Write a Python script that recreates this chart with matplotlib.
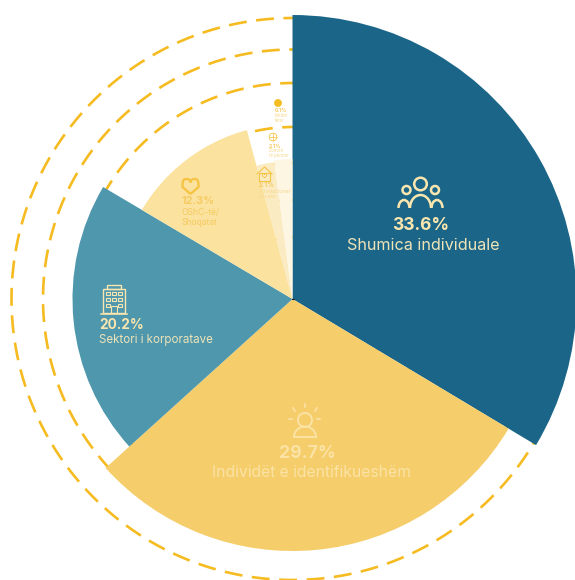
import numpy as np
import matplotlib
matplotlib.use('Agg')
import matplotlib.pyplot as plt
from matplotlib.patches import Circle, Rectangle, Arc, PathPatch
from matplotlib.path import Path

plt.rcParams['font.family'] = ['Inter', 'DejaVu Sans']

# share of funding (percent) and radius of each sector
labels = ['Shumica individuale', 'Individët e identifikueshëm', 'Sektori i korporatave',
          'OShC-të/\nShoqatat', 'Fondacioner\nprivate', 'Donorë\ntë përzier', 'Entitet\nfetar']
shares = [33.6, 29.7, 20.2, 12.3, 2.1, 2.1, 0.1]
radii = [284, 252, 220, 175, 138, 140, 0]
colors = ['#1B6688', '#F5CD6B', '#4E97AD', '#FBE29F', '#FBEBC2', '#FDF6E3', '#FFFFFF']
rings = [281, 249.5, 216, 172, 136, 99, 62]

W, H = 575, 580
cx, cy, rmax = 292.5, 299, 300

fig = plt.figure(figsize=(W / 100, H / 100), dpi=100)
ax = fig.add_axes([(cx - rmax) / W, (H - cy - rmax) / H, 2 * rmax / W, 2 * rmax / H], projection='polar')
ax.set_theta_zero_location('N')
ax.set_theta_direction(-1)
ax.set_rlim(0, rmax)
ax.axis('off')
ax.patch.set_alpha(0)

# dashed rings sit behind the sectors
tt = np.linspace(0, 2 * np.pi, 720)
for r in rings:
    ax.plot(tt, np.full_like(tt, r), color='#F5BB20', lw=1.9, dashes=(6.8, 3.6), zorder=1)

total = 100.0
start = 0.0
for s, r, c in zip(shares, radii, colors):
    w = s / total * 2 * np.pi
    ax.bar(start, r, width=w, bottom=0, align='edge', color=c, lw=0, zorder=2)
    start += w

# overlay in pixel coordinates for labels and icons
ov = fig.add_axes([0, 0, 1, 1])
ov.set_xlim(0, W)
ov.set_ylim(H, 0)
ov.axis('off')
ov.patch.set_alpha(0)

cream = '#FAE6AE'
gold = '#F5CB62'
pale = '#FBE3A5'


def label(x, y, pct, name, col, s1, s2, ha='left', gap=None, col2=None, dx=0):
    ov.text(x, y, pct, color=col, fontsize=s1, fontweight='bold', ha=ha, va='center')
    if gap is None:
        gap = 15
    ov.text(x + dx, y + gap, name, color=col2 or col, fontsize=s2, ha=ha, va='center', linespacing=1.05)


label(421, 226, '33.6%', labels[0], cream, 12.5, 11.6, ha='center', gap=20, col2='#EFE3B8', dx=2)
label(307, 453, '29.7%', labels[1], pale, 12.7, 11.3, ha='center', gap=19.5, dx=4.5)
label(99, 325, '20.2%', labels[2], cream, 9.8, 8.3, col2='#EFE3B8')
label(182, 201, '12.3%', '', gold, 7.8, 6)
ov.text(182, 217.5, labels[3], color=gold, fontsize=6.2, ha='left', va='center', linespacing=1.05)
label(259, 185, '2.1%', '', gold, 4.8, 4)
ov.text(259, 194, labels[4], color='#F7D98C', fontsize=3.9, ha='left', va='center', linespacing=1.05)
label(269, 146, '2.1%', '', gold, 3.8, 3)
ov.text(269, 153, labels[5], color='#F7D98C', fontsize=3.1, ha='left', va='center', linespacing=1.05)
label(275, 111, '0.1%', '', gold, 3.6, 3)
ov.text(275, 118, labels[6], color='#F7D98C', fontsize=3.1, ha='left', va='center', linespacing=1.05)


def circ(x, y, r, col, lw=1.5, fill=False):
    ov.add_patch(Circle((x, y), r, fill=fill, fc=col if fill else 'none', ec=col, lw=lw))


def arc(x, y, w, h, col, lw=1.5):
    # y axis is inverted, so the top half is 180..360
    ov.add_patch(Arc((x, y), w, h, theta1=180, theta2=360, color=col, lw=lw))


def rect(x, y, w, h, col, lw=1.0):
    ov.add_patch(Rectangle((x, y), w, h, fill=False, ec=col, lw=lw))


def heart(x, y, s, col, lw):
    verts = np.array([[0, 7], [-8, 0], [-8, -5], [-8, -8], [-4, -8], [-2, -8], [0, -7], [0, -4.5],
                      [0, -7], [2, -8], [4, -8], [8, -8], [8, -5], [8, 0], [0, 7]]) * s / 8
    verts = verts + [x, y]
    codes = [Path.MOVETO, Path.LINETO, Path.CURVE4, Path.CURVE4, Path.CURVE4, Path.CURVE4, Path.CURVE4,
             Path.CURVE4, Path.CURVE4, Path.CURVE4, Path.CURVE4, Path.CURVE4, Path.CURVE4, Path.CURVE4, Path.LINETO]
    ov.add_patch(PathPatch(Path(verts, codes), fill=False, ec=col, lw=lw))


# people icon
circ(420.5, 184, 6.3, cream, 1.8)
circ(406.5, 190, 4, cream, 1.8)
circ(435, 190, 4, cream, 1.8)
arc(420.5, 208, 21, 26, cream, 1.8)
arc(404, 208, 11, 16, cream, 1.8)
arc(437, 208, 11, 16, cream, 1.8)

# person with rays
circ(305, 420, 7, pale, 1.4)
arc(305, 437, 22, 21, pale, 1.4)
ov.plot([294, 316], [437, 437], color=pale, lw=1.4)
ov.plot([305, 305], [404, 407], color=pale, lw=1.2)
ov.plot([293, 295], [408, 411], color=pale, lw=1.2)
ov.plot([317, 315], [408, 411], color=pale, lw=1.2)
ov.plot([289, 292], [419, 419], color=pale, lw=1.2)
ov.plot([317, 320], [419, 419], color=pale, lw=1.2)

# building
rect(103, 289, 22, 24, cream)
rect(107, 285, 14, 4, cream)
ov.plot([101, 127], [313.5, 313.5], color=cream, lw=1.1)
for wx in (106, 112, 118):
    for wy in (292, 298, 304):
        if not (wx == 112 and wy == 304):
            rect(wx, wy, 3.6, 3.2, cream, 0.8)
rect(111, 306, 6, 7, cream, 0.8)

heart(190.5, 187, 8, '#F5C445', 1.7)

# house
ov.plot([257, 264.5, 272], [174, 167, 174], color='#F5C445', lw=0.8)
rect(259, 173, 11, 7.5, '#F5C445', 0.8)
heart(264.5, 176, 2.2, '#F5C445', 0.6)

# globe
circ(273, 137, 3.8, '#F5C445', 0.6)
ov.plot([269.2, 276.8], [137, 137], color='#F5C445', lw=0.5)
ov.plot([273, 273], [133.2, 140.8], color='#F5C445', lw=0.5)

circ(278, 103, 3.6, '#F5BC20', 0.4, fill=True)

# tiny dark mark where the sectors meet
ov.plot([292, 294], [299, 299], color='#222222', lw=0.8)

fig.savefig('out.png', dpi=100, facecolor='white')
